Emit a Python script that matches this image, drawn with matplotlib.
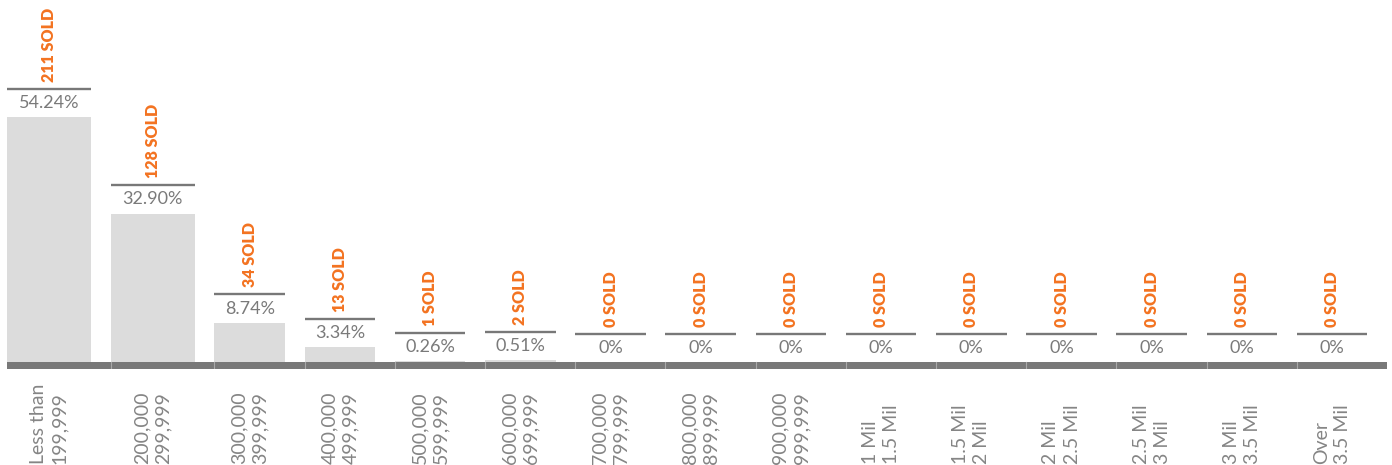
import numpy as np
import matplotlib
matplotlib.use("Agg")
import matplotlib.pyplot as plt
import matplotlib.transforms as mtransforms

categories = ["Less than\n199,999", "200,000\n299,999", "300,000\n399,999",
              "400,000\n499,999", "500,000\n599,999", "600,000\n699,999",
              "700,000\n799,999", "800,000\n899,999", "900,000\n999,999",
              "1 Mil\n1.5 Mil", "1.5 Mil\n2 Mil", "2 Mil\n2.5 Mil",
              "2.5 Mil\n3 Mil", "3 Mil\n3.5 Mil", "Over\n3.5 Mil"]
percent = [54.24, 32.90, 8.74, 3.34, 0.26, 0.51, 0, 0, 0, 0, 0, 0, 0, 0, 0]
sold = [211, 128, 34, 13, 1, 2, 0, 0, 0, 0, 0, 0, 0, 0, 0]

# layout: first two slots are a bit wider in the original
slot_w = np.array([1.15, 1.15] + [1.0] * 13)
gap = 0.217
cap_gap = 6.27

bar_col = "#dcdcdc"
line_col = "#787878"
orange = "#f37321"
text_col = "#7a7a7a"

plt.rcParams['font.family'] = ['Lato', 'DejaVu Sans']

fig = plt.figure(figsize=(13.92, 4.65), dpi=100)
ax = fig.add_axes([7/1392, 96/465, 1380/1392, 369/465])

lefts = np.concatenate([[0], np.cumsum(slot_w)[:-1]])
widths = slot_w - gap
centers = lefts + widths / 2

ax.bar(lefts, percent, width=widths, align='edge', color=bar_col, zorder=1)

ax.axhspan(-1.5, 0, color=line_col, lw=0, zorder=2)
for xb in lefts[1:]:
    ax.plot([xb, xb], [-1.5, 0], color="#a8a8a8", lw=0.8, zorder=3)

for l, w, c, p, s in zip(lefts, widths, centers, percent, sold):
    top = p + cap_gap
    ax.plot([l, l + w], [top, top], color=line_col, lw=1.7, solid_capstyle='butt')
    lab = f"{p:.2f}%" if p else "0%"
    ax.text(c, p + cap_gap / 2, lab, ha='center', va='center',
            fontsize=13, color=text_col, fontweight='normal')
    ax.annotate(f"{s} SOLD", xy=(c, top), xytext=(0, 5), textcoords='offset points',
                rotation=90, ha='center', va='bottom', fontsize=11.5,
                fontweight='heavy', color=orange)

trans = mtransforms.blended_transform_factory(ax.transData, fig.transFigure)
for c, cat in zip(centers, categories):
    ax.text(c, 1/465, cat, transform=trans, rotation=90, ha='center', va='bottom',
            multialignment='left', fontsize=14, color="#858585", fontweight='normal',
            linespacing=1.3, clip_on=False)

ax.set_xlim(0, slot_w.sum())
ax.set_ylim(-1.5, 80.2)
ax.axis('off')

fig.savefig("out.png", dpi=100)
